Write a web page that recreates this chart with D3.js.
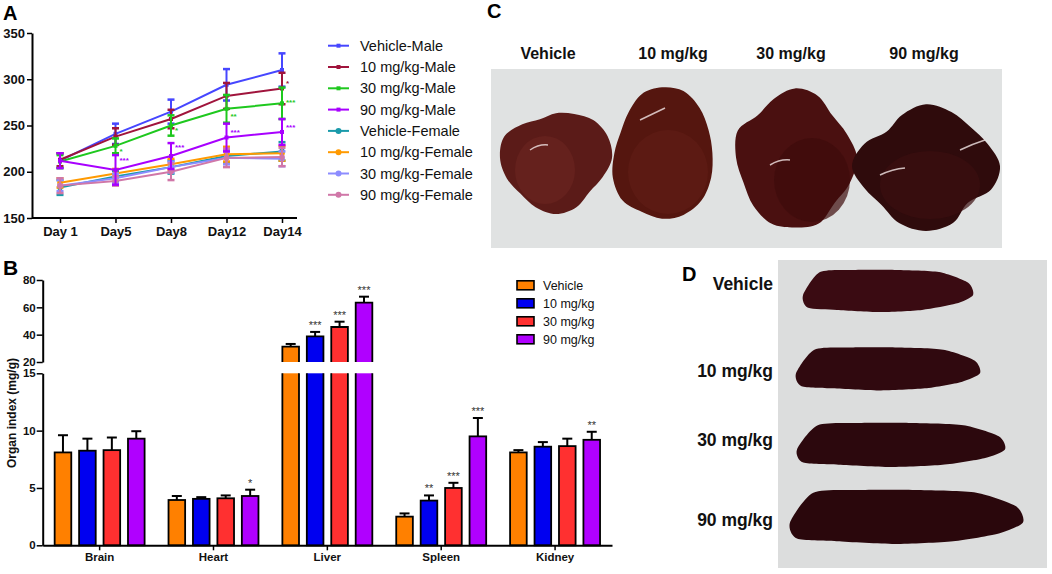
<!DOCTYPE html>
<html>
<head>
<meta charset="utf-8">
<script src="https://cdn.jsdelivr.net/npm/d3@7"></script>
<style>
  body { margin: 0; background: #fff; }
  text { font-family: Arial, "Liberation Sans", sans-serif; }
</style>
</head>
<body>
<script>
// ---- panel A: body weight ----
const days = ["Day 1", "Day5", "Day8", "Day12", "Day14"];
const seriesNames = ["Vehicle-Male", "10 mg/kg-Male", "30 mg/kg-Male", "90 mg/kg-Male",
  "Vehicle-Female", "10 mg/kg-Female", "30 mg/kg-Female", "90 mg/kg-Female"];
const vehicleMale = [212, 241, 265, 294, 310];
const mg10Male = [213, 238, 257, 282, 290];
const mg30Male = [211, 228, 250, 268, 274];
const mg90Male = [212, 202, 217, 237, 243];
const vehicleFemale = [183, 195, 205, 217, 222];
const mg10Female = [188, 198, 208, 219, 220];
const mg30Female = [185, 193, 205, 215, 214];
const mg90Female = [185, 190, 200, 215, 216];
const vehicleMaleErr = [8, 11, 13, 17, 18];
const mg10MaleErr = [7, 9, 10, 14, 17];
const mg30MaleErr = [7, 8, 11, 15, 17];
const mg90MaleErr = [8, 16, 14, 15, 14];
const vehicleFemaleErr = [8, 6, 7, 7, 10];
const mg10FemaleErr = [5, 5, 6, 8, 8];
const mg30FemaleErr = [6, 5, 6, 7, 8];
const mg90FemaleErr = [8, 5, 9, 10, 10];
// significance marks: [series index, day index, label, y value where printed]
const sigA = [[2, 1, "*", 225], [3, 1, "***", 215], [2, 2, "*", 247], [3, 2, "***", 229],
  [2, 3, "**", 262], [3, 3, "***", 245], [1, 4, "*", 298], [2, 4, "***", 278], [3, 4, "***", 251]];

// ---- panel B: organ index ----
const organs = ["Brain", "Heart", "Liver", "Spleen", "Kidney"];
const doseGroups = ["Vehicle", "10 mg/kg", "30 mg/kg", "90 mg/kg"];
const idxVehicle = [8.1, 3.95, 31.2, 2.5, 8.1];
const idx10 = [8.25, 4.05, 38.8, 3.9, 8.6];
const idx30 = [8.3, 4.1, 45.6, 5.0, 8.65];
const idx90 = [9.3, 4.3, 63.4, 9.5, 9.2];
const errVehicle = [1.5, 0.35, 2.0, 0.28, 0.2];
const err10 = [1.05, 0.15, 3.2, 0.45, 0.4];
const err30 = [1.1, 0.25, 3.9, 0.45, 0.65];
const err90 = [0.65, 0.55, 4.4, 1.6, 0.7];
const sigVehicle = ["", "", "", "", ""];
const sig10 = ["", "", "***", "**", ""];
const sig30 = ["", "", "***", "***", ""];
const sig90 = ["", "*", "***", "***", "**"];
const lowTicks = [0, 5, 10, 15];
const highTicks = [20, 40, 60, 80];

// ---- panels C, D: photo labels ----
const photoLabels = ["Vehicle", "10 mg/kg", "30 mg/kg", "90 mg/kg"];

const lineColors = ["#4646ff", "#a0143c", "#1ec81e", "#a800ff", "#1a9aaa", "#ff9a00", "#8c8cff", "#d077a8"];
const barColors = ["#ff8000", "#0000f0", "#ff3030", "#b000ff"];

const svg = d3.select("body").append("svg")
  .attr("width", 1052).attr("height", 574);

svg.append("rect").attr("width", 1052).attr("height", 574).attr("fill", "#fff");

function panelLetter(t, x, y, size) {
  svg.append("text").attr("x", x).attr("y", y).text(t)
    .attr("font-size", size).attr("font-weight", "bold");
}

// ================= Panel A =================
panelLetter("A", 3, 20, 20);
const gA = svg.append("g");
const xA = d3.scalePoint().domain(days).range([60, 282]);
const yA = d3.scaleLinear().domain([150, 350]).range([218, 33]);

gA.append("g").attr("transform", "translate(32,0)")
  .call(d3.axisLeft(yA).tickValues([150, 200, 250, 300, 350]).tickSize(5).tickPadding(2).tickSizeOuter(0))
  .call(g => g.selectAll("text").attr("font-size", 13).attr("font-weight", "bold").attr("fill", "#111"));
gA.append("g").attr("transform", "translate(0,218)")
  .call(d3.axisBottom(xA).tickSize(5).tickPadding(4).tickSizeOuter(0))
  .call(g => g.select(".domain").remove())
  .call(g => g.selectAll("text").attr("font-size", 13).attr("font-weight", "bold").attr("fill", "#111"));
gA.append("line").attr("x1", 32).attr("x2", 297).attr("y1", 218).attr("y2", 218)
  .attr("stroke", "#000").attr("stroke-width", 2);
gA.selectAll(".domain").attr("stroke-width", 2);
gA.selectAll(".tick line").attr("stroke-width", 1.5);

const seriesA = [
  [vehicleMale, vehicleMaleErr], [mg10Male, mg10MaleErr], [mg30Male, mg30MaleErr], [mg90Male, mg90MaleErr],
  [vehicleFemale, vehicleFemaleErr], [mg10Female, mg10FemaleErr], [mg30Female, mg30FemaleErr], [mg90Female, mg90FemaleErr]
].map((s, i) => ({ name: seriesNames[i], color: lineColors[i], female: i >= 4,
  pts: days.map((d, j) => ({ day: d, v: s[0][j], e: s[1][j] })) }));

const lineA = d3.line().x(d => xA(d.day)).y(d => yA(d.v));
const drawOrder = [4, 5, 6, 7, 0, 1, 2, 3];
drawOrder.forEach(i => {
  const s = seriesA[i];
  const g = gA.append("g");
  g.selectAll(".eb").data(s.pts).join("line")
    .attr("x1", d => xA(d.day)).attr("x2", d => xA(d.day))
    .attr("y1", d => yA(d.v - d.e)).attr("y2", d => yA(d.v + d.e))
    .attr("stroke", s.color).attr("stroke-width", 2);
  g.selectAll(".capT").data(s.pts).join("line")
    .attr("x1", d => xA(d.day) - 3.5).attr("x2", d => xA(d.day) + 3.5)
    .attr("y1", d => yA(d.v + d.e)).attr("y2", d => yA(d.v + d.e))
    .attr("stroke", s.color).attr("stroke-width", 2.5);
  g.selectAll(".capB").data(s.pts).join("line")
    .attr("x1", d => xA(d.day) - 3.5).attr("x2", d => xA(d.day) + 3.5)
    .attr("y1", d => yA(d.v - d.e)).attr("y2", d => yA(d.v - d.e))
    .attr("stroke", s.color).attr("stroke-width", 2.5);
  g.append("path").datum(s.pts).attr("d", lineA)
    .attr("fill", "none").attr("stroke", s.color).attr("stroke-width", 2);
  if (s.female) {
    g.selectAll(".mk").data(s.pts).join("circle")
      .attr("cx", d => xA(d.day)).attr("cy", d => yA(d.v)).attr("r", 2.8).attr("fill", s.color);
  } else {
    g.selectAll(".mk").data(s.pts).join("rect")
      .attr("x", d => xA(d.day) - 2).attr("y", d => yA(d.v) - 2)
      .attr("width", 4).attr("height", 4).attr("fill", s.color);
  }
});

gA.selectAll(".sigA").data(sigA).join("text")
  .attr("x", d => xA(days[d[1]]) + 4).attr("y", d => yA(d[3]) + 5)
  .attr("font-size", 8).attr("font-weight", "bold")
  .attr("fill", d => lineColors[d[0]]).text(d => d[2]);

// legend A
const legA = gA.selectAll(".legA").data(seriesA).join("g")
  .attr("transform", (d, i) => `translate(328,${45.7 + i * 21.3})`);
legA.append("line").attr("x1", 0).attr("x2", 21)
  .attr("stroke", d => d.color).attr("stroke-width", 2);
legA.each(function (d) {
  const g = d3.select(this);
  if (d.female) g.append("circle").attr("cx", 10.5).attr("r", 3).attr("fill", d.color);
  else g.append("rect").attr("x", 8.5).attr("y", -2).attr("width", 4).attr("height", 4).attr("fill", d.color);
});
legA.append("text").attr("x", 32).attr("y", 5).attr("font-size", 14.5).attr("fill", "#111")
  .text(d => d.name);

// ================= Panel B =================
panelLetter("B", 3, 275, 21);
const gB = svg.append("g");
const x0 = d3.scaleBand().domain(organs).range([42.7, 612]).paddingInner(0.21).paddingOuter(0.105);
const x1 = d3.scaleBand().domain(doseGroups).range([0, x0.bandwidth()]).paddingInner(0.32);
const yLo = d3.scaleLinear().domain([0, 15]).range([545.3, 373.3]);
const yHi = d3.scaleLinear().domain([20, 80]).range([362, 280]);
const yB = v => v <= 15 ? yLo(v) : yHi(v);

const vals = [idxVehicle, idx10, idx30, idx90];
const errs = [errVehicle, err10, err30, err90];
const sigs = [sigVehicle, sig10, sig30, sig90];
const bars = [];
organs.forEach((o, i) => doseGroups.forEach((g, j) => {
  bars.push({ organ: o, group: g, j, v: vals[j][i], e: errs[j][i], s: sigs[j][i] });
}));

const bx = d => x0(d.organ) + x1(d.group);
const bw = x1.bandwidth();

// error bars (drawn first so bar outline covers base)
gB.selectAll(".ebB").data(bars).join("line")
  .attr("x1", d => bx(d) + bw / 2).attr("x2", d => bx(d) + bw / 2)
  .attr("y1", d => yB(d.v)).attr("y2", d => yB(d.v + d.e))
  .attr("stroke", "#000").attr("stroke-width", 2);
gB.selectAll(".capBB").data(bars).join("line")
  .attr("x1", d => bx(d) + bw / 2 - 5).attr("x2", d => bx(d) + bw / 2 + 5)
  .attr("y1", d => yB(d.v + d.e)).attr("y2", d => yB(d.v + d.e))
  .attr("stroke", "#000").attr("stroke-width", 2);

bars.forEach(d => {
  const x = bx(d);
  const c = barColors[d.j];
  if (d.v <= 15) {
    gB.append("rect").attr("x", x).attr("y", yLo(d.v)).attr("width", bw)
      .attr("height", yLo(0) - yLo(d.v)).attr("fill", c).attr("stroke", "#000").attr("stroke-width", 1.8);
  } else {
    gB.append("rect").attr("x", x).attr("y", yLo(15)).attr("width", bw)
      .attr("height", yLo(0) - yLo(15)).attr("fill", c);
    gB.append("path").attr("d", `M${x},${yLo(15)}V${yLo(0)}H${x + bw}V${yLo(15)}`)
      .attr("fill", "none").attr("stroke", "#000").attr("stroke-width", 1.8);
    gB.append("rect").attr("x", x).attr("y", yHi(d.v)).attr("width", bw)
      .attr("height", yHi(20) - yHi(d.v)).attr("fill", c);
    gB.append("path").attr("d", `M${x},${yHi(20)}V${yHi(d.v)}H${x + bw}V${yHi(20)}`)
      .attr("fill", "none").attr("stroke", "#000").attr("stroke-width", 1.8);
  }
});

gB.selectAll(".sigB").data(bars.filter(d => d.s)).join("text")
  .attr("x", d => bx(d) + bw / 2).attr("y", d => yB(d.v + d.e) - 3)
  .attr("text-anchor", "middle").attr("font-size", 11).attr("fill", "#333").text(d => d.s);

// axes B
const styleAxisB = g => {
  g.select(".domain").attr("stroke-width", 2);
  g.selectAll(".tick line").attr("stroke-width", 1.5);
  g.selectAll("text").attr("font-size", 11.5).attr("font-weight", "bold").attr("fill", "#111");
};
gB.append("g").attr("transform", "translate(42.7,0)")
  .call(d3.axisLeft(yLo).tickValues(lowTicks).tickSize(6).tickPadding(1).tickSizeOuter(0)).call(styleAxisB);
gB.append("g").attr("transform", "translate(42.7,0)")
  .call(d3.axisLeft(yHi).tickValues(highTicks).tickSize(6).tickPadding(1).tickSizeOuter(0)).call(styleAxisB);
gB.append("g").attr("transform", "translate(0,545.3)")
  .call(d3.axisBottom(x0).tickSize(5).tickPadding(3).tickSizeOuter(0))
  .call(styleAxisB);
gB.append("text").attr("transform", "translate(16,413) rotate(-90)")
  .attr("text-anchor", "middle").attr("font-size", 12).attr("font-weight", "bold")
  .attr("fill", "#111").text("Organ index (mg/g)");

// legend B
const legB = gB.selectAll(".legB").data(doseGroups).join("g")
  .attr("transform", (d, i) => `translate(517,${285.3 + i * 18})`);
legB.append("rect").attr("x", 0).attr("y", -4.5).attr("width", 17).attr("height", 9)
  .attr("fill", (d, i) => barColors[i]).attr("stroke", "#000").attr("stroke-width", 1.6);
legB.append("text").attr("x", 26).attr("y", 4.5).attr("font-size", 12.5).attr("fill", "#111").text(d => d);

// ================= Panel C (liver photo) =================
panelLetter("C", 487, 18, 20);
const gC = svg.append("g");
gC.append("rect").attr("x", 491).attr("y", 69).attr("width", 511).attr("height", 179).attr("fill", "#e0e2e2");
gC.selectAll(".lblC").data(photoLabels).join("text")
  .attr("x", (d, i) => [548, 673, 791, 924][i]).attr("y", 59)
  .attr("text-anchor", "middle").attr("font-size", 16).attr("font-weight", "bold").attr("fill", "#111")
  .text(d => d);

// rough organ outlines: radii going clockwise from 12 o'clock
const blob = d3.lineRadial().curve(d3.curveCatmullRomClosed.alpha(0.5));
function organBlob(g, cx, cy, rx, ry, radii, fill) {
  const n = radii.length;
  g.append("path")
    .attr("transform", `translate(${cx},${cy}) scale(${rx},${ry})`)
    .attr("d", blob(radii.map((r, i) => [i / n * 2 * Math.PI, r]))).attr("fill", fill);
}
organBlob(gC, 556, 158, 56, 56, [0.8, 0.85, 0.95, 1.0, 1.0, 0.9, 0.85, 0.95, 1.0, 0.95, 0.9, 0.95, 1.0, 1.0, 0.85, 0.75], "#5b1b18");
organBlob(gC, 662, 153, 56, 67, [0.98, 1.0, 0.95, 0.9, 0.9, 0.95, 1.0, 1.0, 0.98, 0.95, 1.0, 0.95, 0.85, 0.8, 0.85, 0.95], "#55160f");
organBlob(gC, 795, 158, 62, 71, [0.98, 0.95, 0.85, 0.9, 1.0, 0.95, 0.9, 1.0, 0.98, 1.0, 0.95, 0.9, 0.95, 1.0, 0.85, 0.9], "#4a1010");
organBlob(gC, 926, 166, 74, 65, [0.95, 0.9, 0.85, 0.9, 1.0, 0.95, 0.8, 0.95, 1.0, 0.95, 0.85, 0.9, 1.0, 0.9, 0.75, 0.85], "#2f0b0c");
// lobe shading
[[545, 170, 30, 34, "#6a2320"], [668, 172, 40, 42, "#601c15"], [812, 180, 38, 42, "#3d0c0c"], [930, 185, 50, 34, "#3a0e0f"]]
  .forEach(l => gC.append("ellipse").attr("cx", l[0]).attr("cy", l[1]).attr("rx", l[2]).attr("ry", l[3])
    .attr("fill", l[4]).attr("opacity", 0.7));
// glare
[[530, 150, 548, 145], [640, 120, 665, 108], [770, 165, 790, 160], [880, 175, 905, 168], [960, 150, 985, 140]]
  .forEach(h => gC.append("path").attr("d", `M${h[0]},${h[1]}Q${(h[0] + h[2]) / 2},${h[1] - 6} ${h[2]},${h[3]}`)
    .attr("stroke", "#f2e6e6").attr("stroke-width", 1.5).attr("fill", "none").attr("opacity", 0.8));

// ================= Panel D (spleen photo) =================
panelLetter("D", 682, 281, 20);
const gD = svg.append("g");
gD.append("rect").attr("x", 778).attr("y", 260).attr("width", 269).attr("height", 308).attr("fill", "#dcdddd");
gD.selectAll(".lblD").data(photoLabels).join("text")
  .attr("x", 773).attr("y", (d, i) => [290, 377, 446, 526][i])
  .attr("text-anchor", "end").attr("font-size", 17.5).attr("font-weight", "bold").attr("fill", "#111")
  .text(d => d);

const spleenLine = d3.line().curve(d3.curveCardinalClosed.tension(0.3));
function spleen(x0s, x1s, yc, h, fill) {
  const w = x1s - x0s;
  const top = [[0, 0.1], [0.1, -0.45], [0.3, -0.5], [0.55, -0.5], [0.8, -0.45], [0.97, -0.2]];
  const bot = [[1, 0.1], [0.9, 0.3], [0.7, 0.45], [0.45, 0.5], [0.2, 0.45], [0.03, 0.4]];
  const pts = top.concat(bot).map(p => [x0s + p[0] * w, yc + p[1] * h]);
  gD.append("path").attr("d", spleenLine(pts)).attr("fill", fill);
}
spleen(803, 973, 291, 42, "#3a0b12");
spleen(796, 980, 369, 43, "#30090f");
spleen(797, 1005, 445, 44, "#2c080d");
spleen(790, 1023, 517, 54, "#2a070c");
</script>
</body>
</html>
